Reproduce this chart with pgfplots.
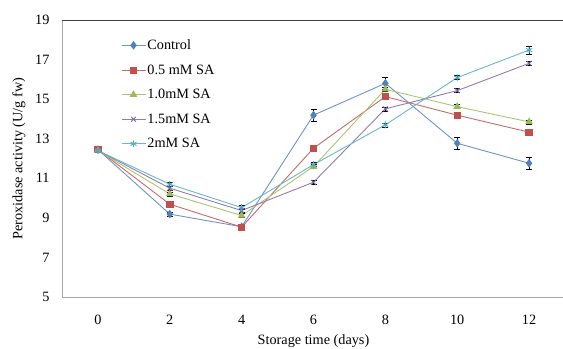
\documentclass[border=0pt]{standalone}
\usepackage{pgfplots}
\pgfplotsset{compat=1.18}
\usepackage{fontspec}
\setmainfont{Liberation Serif}
\definecolor{cBlue}{HTML}{4F81BD}
\definecolor{cRed}{HTML}{C0504D}
\definecolor{cGreen}{HTML}{9BBB59}
\definecolor{cPurple}{HTML}{8064A2}
\definecolor{cCyan}{HTML}{4BACC6}
\begin{document}
\begin{tikzpicture}
\path[use as bounding box] (-62bp,-52bp) rectangle (501bp,297bp);
\begin{axis}[
  at={(0,0)}, anchor=south west,
  scale only axis, width=503bp, height=277bp,
  xmin=-1, xmax=13, ymin=5, ymax=19,
  xtick={0,2,4,6,8,10,12}, ytick={5,7,9,11,13,15,17,19},
  major tick length=0pt,
  axis line style={draw=none},
  font=\fontsize{14.3}{16}\selectfont,
  /pgf/number format/assume math mode=true,
  xticklabel style={yshift=-15bp},
  yticklabel style={xshift=-9bp},
  xlabel={Storage time (days)},
  ylabel={Peroxidase activity (U/g fw)},
  xlabel style={yshift=-2.5bp},
  ylabel style={yshift=3bp},
  clip=false,
  legend style={draw=none, fill=none, at={(0.117,0.935)}, anchor=north west,
    row sep=10.6bp, font=\fontsize{14.3}{16}\selectfont, inner sep=0pt,
    nodes={inner sep=1.5bp}},
  legend image code/.code={\draw[mark repeat=2,mark phase=2,#1] plot coordinates {(0bp,0bp) (12bp,0bp) (24bp,0bp)};},
  legend cell align=left,
  error bars/y dir=both, error bars/y explicit,
  error bars/error bar style={black, line width=0.6pt},
  error bars/error mark options={rotate=90, mark size=3bp, black, line width=0.6pt},
]
\draw[gray!70, line width=0.8pt] (rel axis cs:0,1) -- (rel axis cs:0,0) -- (rel axis cs:1.02,0);
\draw[black!75, line width=1pt] (rel axis cs:0,1) -- (rel axis cs:1.02,1);

\addplot[cBlue!85, line width=0.9pt, mark=diamond*, mark size=3.6bp, mark options={fill=cBlue, draw=cBlue}]
 coordinates {(0,12.45) +- (0,0.1) (2,9.19) +- (0,0.1) (4,8.55) +- (0,0.1) (6,14.19) +- (0,0.3) (8,15.8) +- (0,0.3) (10,12.77) +- (0,0.3) (12,11.76) +- (0,0.3)};
\addlegendentry{Control}
\addplot[cRed!85, line width=0.9pt, mark=square*, mark size=3.2bp, mark options={fill=cRed, draw=cRed}]
 coordinates {(0,12.45) +- (0,0.1) (2,9.69) +- (0,0.1) (4,8.53) +- (0,0.1) (6,12.52) +- (0,0.1) (8,15.13) +- (0,0.1) (10,14.19) +- (0,0.1) (12,13.33) +- (0,0.1)};
\addlegendentry{0.5 mM SA}
\addplot[cGreen!85, line width=0.9pt, mark=triangle*, mark size=3.6bp, mark options={fill=cGreen, draw=cGreen}]
 coordinates {(0,12.4) +- (0,0.1) (2,10.21) +- (0,0.1) (4,9.12) +- (0,0.1) (6,11.59) +- (0,0.1) (8,15.5) +- (0,0.1) (10,14.62) +- (0,0.1) (12,13.85) +- (0,0.1)};
\addlegendentry{1.0mM SA}
\addplot[cPurple!85, line width=0.9pt, mark=x, mark size=3.4bp, mark options={draw=cPurple}]
 coordinates {(0,12.4) +- (0,0.1) (2,10.5) +- (0,0.1) (4,9.37) +- (0,0.1) (6,10.8) +- (0,0.1) (8,14.51) +- (0,0.1) (10,15.43) +- (0,0.1) (12,16.81) +- (0,0.1)};
\addlegendentry{1.5mM SA}
\addplot[cCyan!85, line width=0.9pt, mark=asterisk, mark size=3.4bp, mark options={draw=cCyan}]
 coordinates {(0,12.4) +- (0,0.1) (2,10.7) +- (0,0.1) (4,9.52) +- (0,0.1) (6,11.69) +- (0,0.1) (8,13.7) +- (0,0.1) (10,16.09) +- (0,0.1) (12,17.48) +- (0,0.2)};
\addlegendentry{2mM SA}
\end{axis}
\end{tikzpicture}
\end{document}
